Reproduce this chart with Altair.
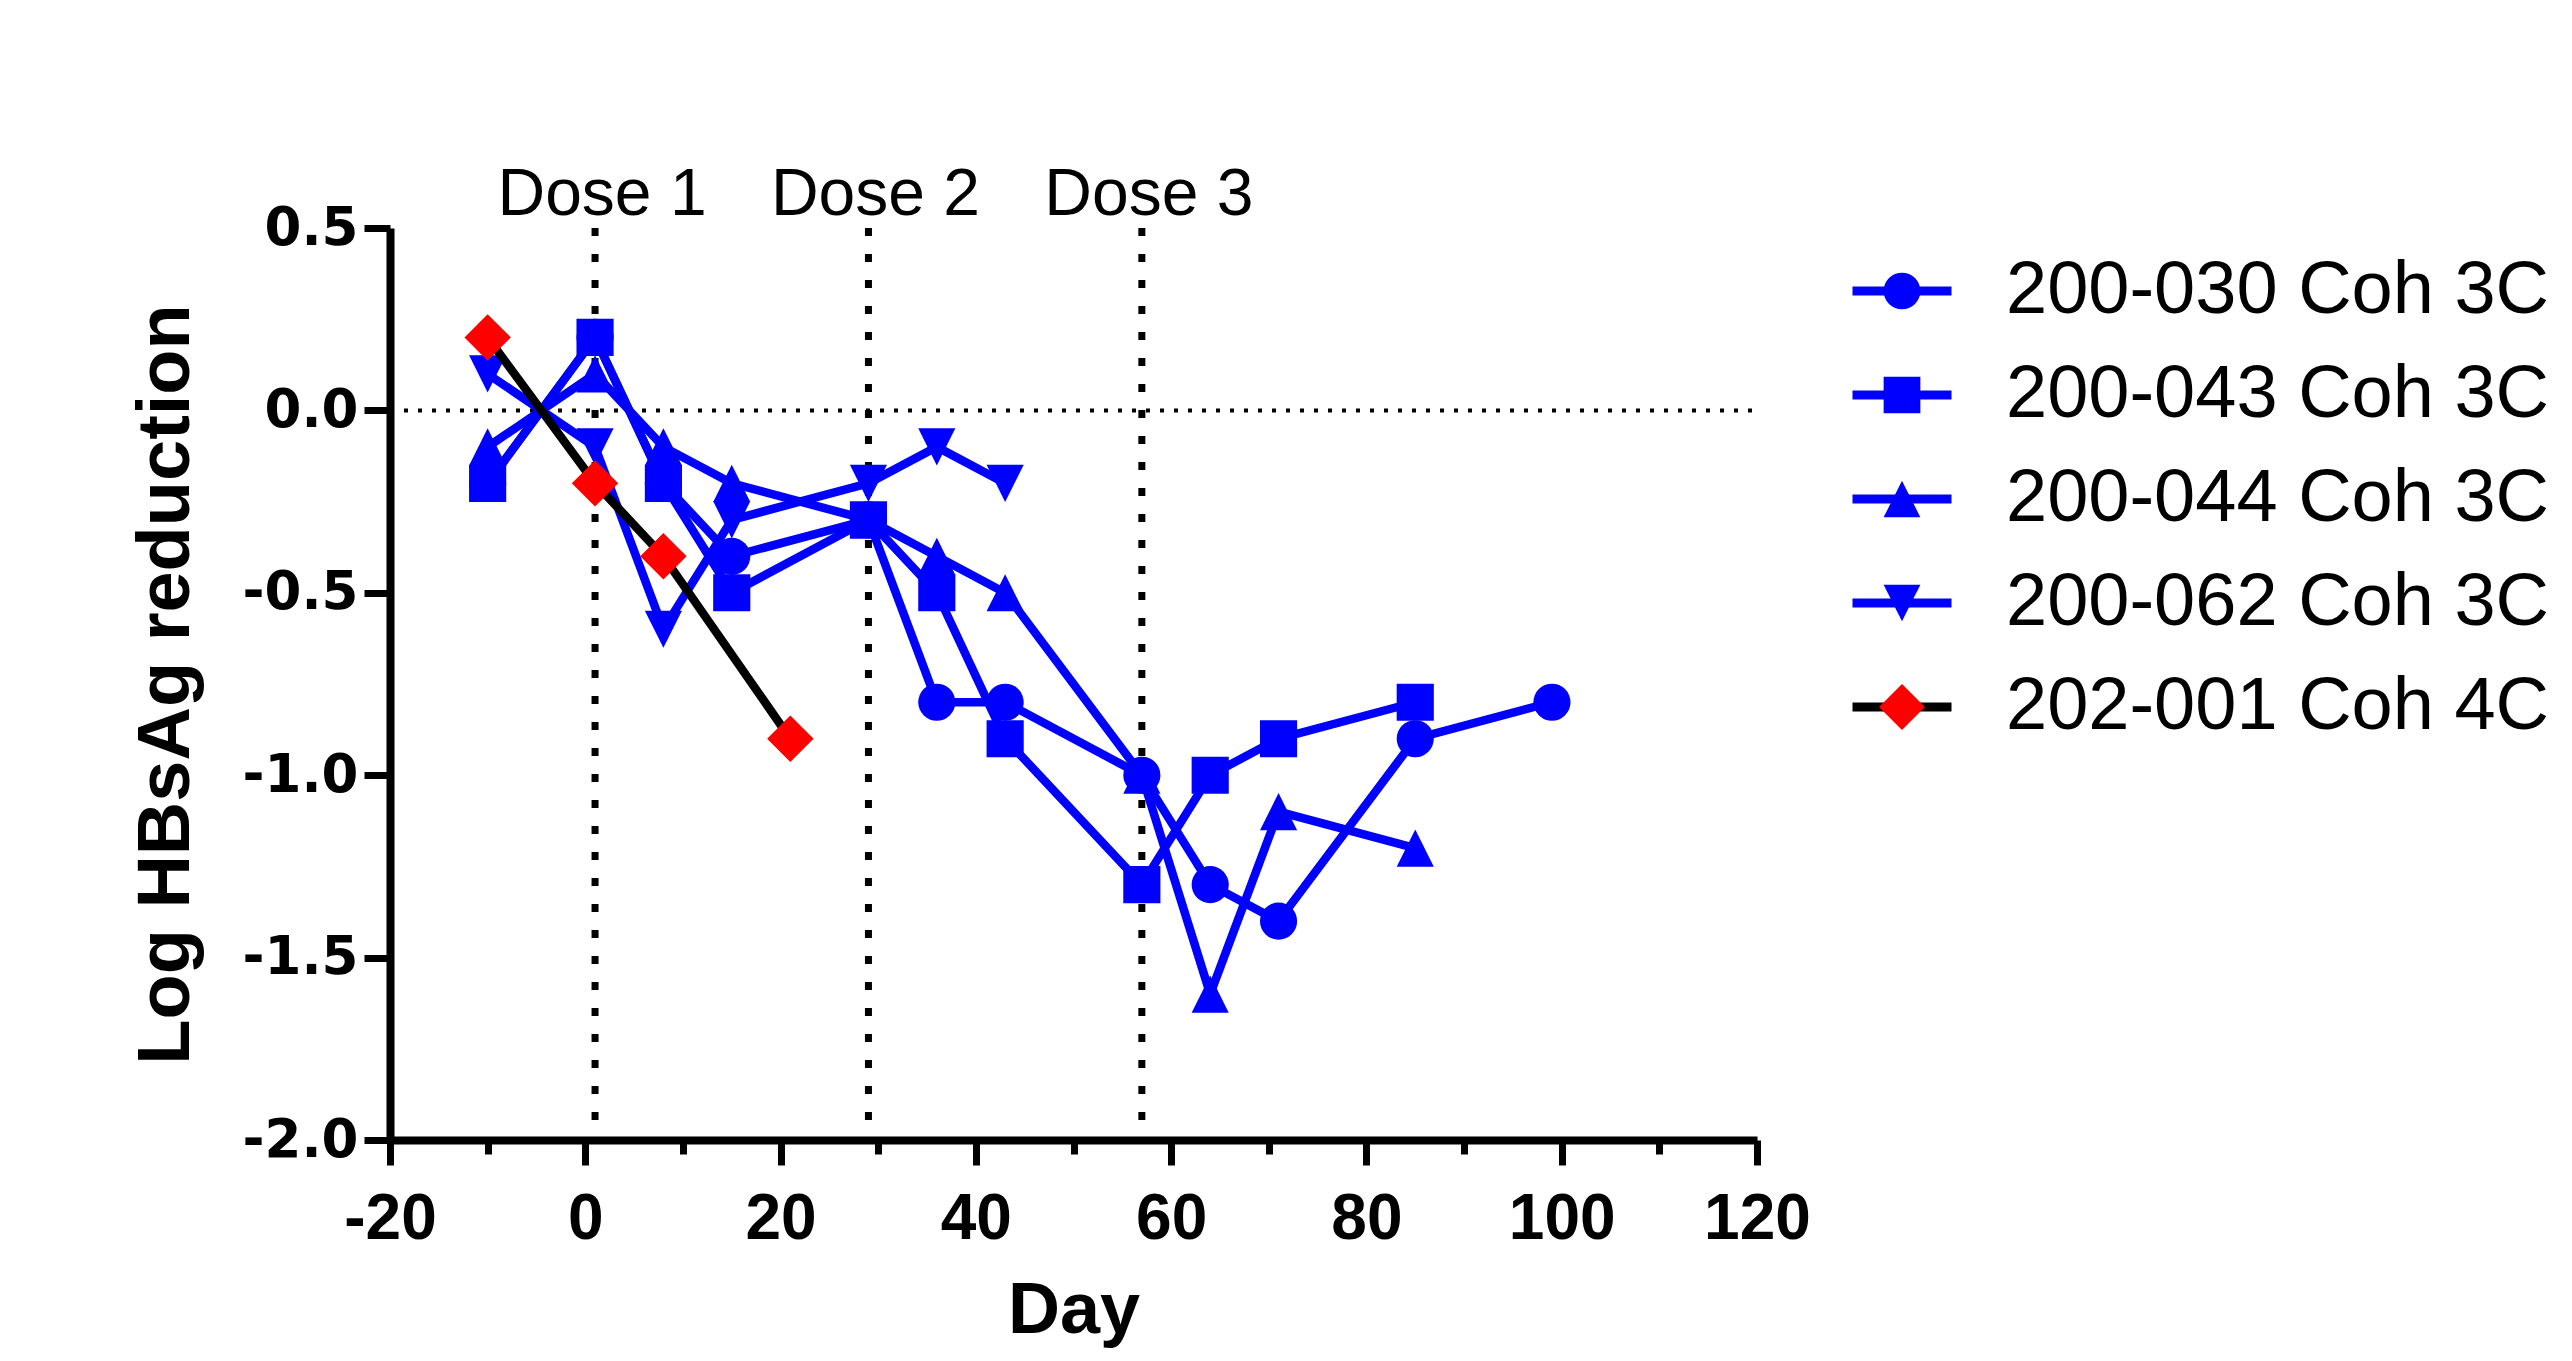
import altair as alt
import pandas as pd

# ---------------- data ----------------
days = [-10, 1, 8, 15, 29, 36, 43, 57, 64, 71, 85, 99]
series_names = ["200-030 Coh 3C", "200-043 Coh 3C", "200-044 Coh 3C",
                "200-062 Coh 3C", "202-001 Coh 4C"]
s_030 = [-0.2, 0.2, -0.2, -0.4, -0.3, -0.8, -0.8, -1.0, -1.3, -1.4, -0.9, -0.8]
s_043 = [-0.2, 0.2, -0.2, -0.5, -0.3, -0.5, -0.9, -1.3, -1.0, -0.9, -0.8, None]
s_044 = [-0.1, 0.1, -0.1, -0.2, -0.3, -0.4, -0.5, -1.0, -1.6, -1.1, -1.2, None]
s_062 = [0.1, -0.1, -0.6, -0.3, -0.2, -0.1, -0.2, None, None, None, None, None]
days_001 = [-10, 1, 8, 21]
s_001 = [0.2, -0.2, -0.4, -0.9]

dose_days = [1, 29, 57]
dose_labels = ["Dose 1", "Dose 2", "Dose 3"]

x_domain = [-20, 120]
y_domain = [-2.0, 0.5]
x_major = [-20, 0, 20, 40, 60, 80, 100, 120]
x_minor = [-10, 10, 30, 50, 70, 90, 110]
y_ticks = [-2.0, -1.5, -1.0, -0.5, 0.0, 0.5]
baseline_value = [0.0]

line_colors = ["#0000FF", "#0000FF", "#0000FF", "#0000FF", "#000000"]
marker_colors = ["#0000FF", "#0000FF", "#0000FF", "#0000FF", "#FF0000"]
marker_shapes = ["circle", "square", "M0,-1L1,1L-1,1Z", "M0,1L1,-1L-1,-1Z",
                 "M0,-1.25L1.25,0L0,1.25L-1.25,0Z"]

# ---------------- tables ----------------
rows = []
for name, vals in zip(series_names[:4], [s_030, s_043, s_044, s_062]):
    for d, v in zip(days, vals):
        if v is not None:
            rows.append({"day": d, "value": v, "series": name, "subject": name})
for d, v in zip(days_001, s_001):
    rows.append({"day": d, "value": v, "series": series_names[4], "subject": series_names[4]})
df = pd.DataFrame(rows)

dose_df = pd.DataFrame({"dose_day": dose_days, "label": dose_labels})
zero_df = pd.DataFrame({"y": baseline_value, "x0": [x_domain[0]], "x1": [x_domain[1]]})

# ---------------- scales / axes ----------------
x_scale = alt.Scale(domain=x_domain, nice=False, zero=False)
y_scale = alt.Scale(domain=y_domain, nice=False, zero=False)
minus_fix = "replace(datum.label, '\u2212', '-')"

major_x_axis = alt.Axis(
    values=x_major, orient="bottom", title="Day", grid=False,
    domainWidth=8, domainColor="black", tickSize=25, tickWidth=7, tickColor="black",
    labelFont="Liberation Sans", labelFontSize=64,
    labelFontWeight="bold", labelColor="black", labelPadding=22,
    labelExpr=minus_fix, labelFlush=False, labelOverlap=False,
    titleFont="Liberation Sans", titleFontSize=72, titleFontWeight="bold",
    titleColor="black", titlePadding=24)

minor_x_axis = alt.Axis(
    values=x_minor, orient="bottom", title=None, grid=False, domain=False,
    labels=False, tickSize=14, tickWidth=7, tickColor="black")

y_axis = alt.Axis(
    values=y_ticks, format=".1f", labelExpr=minus_fix, grid=False,
    title="Log HBsAg reduction", domainWidth=8, domainColor="black",
    tickSize=26, tickWidth=7, tickColor="black",
    labelFont="DejaVu Sans", labelFontSize=53, labelFontWeight="bold",
    labelColor="black", labelPadding=6, labelFlush=False, labelOverlap=False,
    titleFont="Liberation Sans", titleFontSize=74, titleFontWeight="bold",
    titleColor="black", titlePadding=38)

line_legend = alt.Legend(
    title=None, orient="none", legendX=1475, legendY=26, padding=0,
    symbolType="M-2,0L2,0", symbolSize=2450, symbolStrokeWidth=9,
    labelFont="Liberation Sans", labelFontSize=74, labelColor="black",
    labelOffset=67, rowPadding=30, labelLimit=0)

marker_legend = alt.Legend(
    title=None, orient="none", legendX=1475, legendY=26, padding=0,
    symbolSize=1350, symbolStrokeWidth=0,
    labelFont="Liberation Sans", labelFontSize=74, labelOpacity=0,
    labelOffset=67, rowPadding=30, labelLimit=0)

X = lambda f: alt.X(f, scale=x_scale, axis=major_x_axis)
Y = lambda f: alt.Y(f, scale=y_scale, axis=y_axis)

base = alt.Chart(df)
blue = alt.FieldOneOfPredicate(field="series", oneOf=series_names[:4])
red = alt.FieldEqualPredicate(field="series", equal=series_names[4])

zero_rule = alt.Chart(zero_df).mark_rule(
    color="black", strokeWidth=4, strokeDash=[4, 10]).encode(
    x=X("x0:Q"), x2="x1:Q", y=Y("y:Q"))

dose_text = alt.Chart(dose_df).mark_text(
    font="Liberation Sans", fontSize=66, color="black", align="center",
    baseline="alphabetic", dx=7, dy=-13).encode(
    x=X("dose_day:Q"), y=alt.Y(datum=0.5, scale=y_scale, axis=y_axis), text="label:N")

def lines(pred):
    return base.transform_filter(pred).mark_line(strokeWidth=8.5).encode(
        x=X("day:Q"), y=Y("value:Q"),
        stroke=alt.Stroke("series:N", scale=alt.Scale(range=line_colors), legend=line_legend))

def points(pred):
    return base.transform_filter(pred).mark_point(
        filled=True, size=1380, opacity=1, strokeWidth=0).encode(
        x=X("day:Q"), y=Y("value:Q"),
        fill=alt.Fill("subject:N", scale=alt.Scale(range=marker_colors), legend=marker_legend),
        shape=alt.Shape("subject:N", scale=alt.Scale(range=marker_shapes), legend=marker_legend))

inner = alt.layer(zero_rule, dose_text, lines(blue), points(blue), lines(red), points(red))

dose_rules = alt.Chart(dose_df).mark_rule(
    color="black", strokeWidth=7, strokeDash=[8, 18]).encode(
    x=alt.X("dose_day:Q", scale=x_scale, axis=minor_x_axis),
    y=alt.Y(datum=0.5, scale=y_scale, axis=y_axis),
    y2=alt.Y2(datum=-2.0))

chart = alt.layer(dose_rules, inner).resolve_axis(x="independent").properties(
    width=1367, height=912,
    autosize=alt.AutoSizeParams(type="none"),
    padding={"left": 382, "top": 220, "right": 807, "bottom": 212},
    background="white",
).configure_view(stroke=None)

chart.save("out.html", embed_options={"renderer": "svg", "actions": False})
